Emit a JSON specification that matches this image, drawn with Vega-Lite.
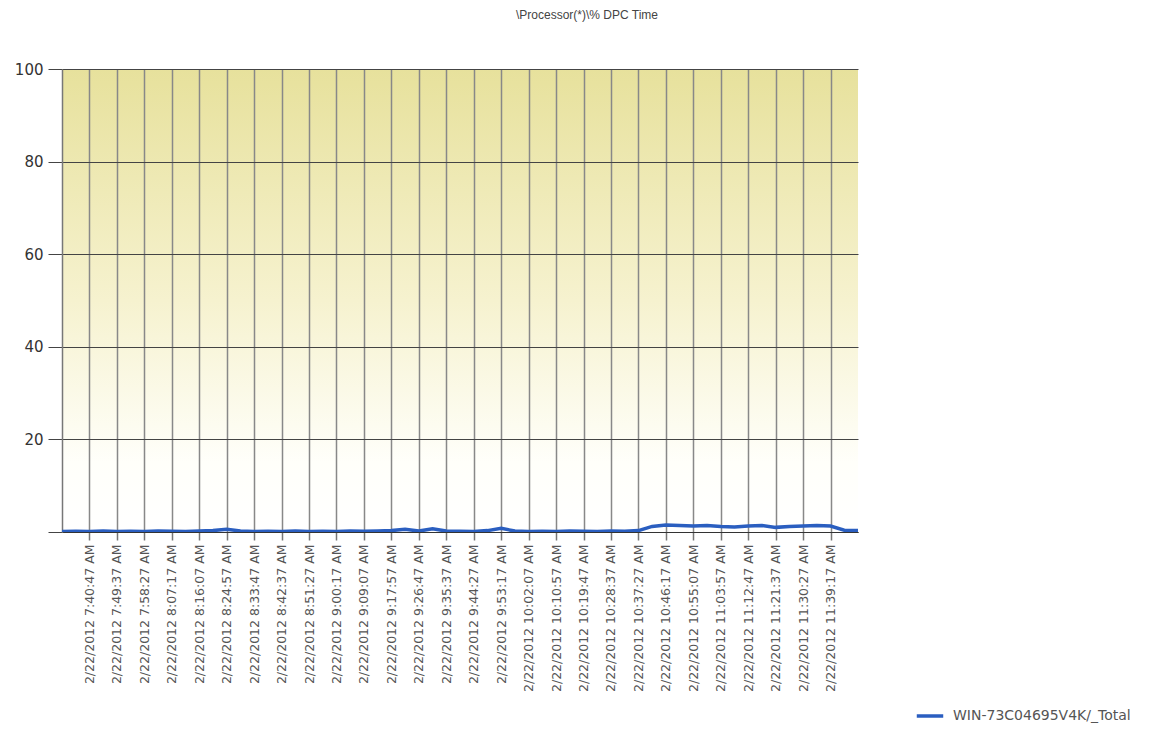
{
  "$schema": "https://vega.github.io/schema/vega-lite/v6.json",
  "autosize": {"type": "none"},
  "padding": {"left": 62, "top": 69, "right": 304, "bottom": 199},
  "width": 796,
  "height": 463,
  "background": "#ffffff",
  "title": {
    "text": "\\Processor(*)\\% DPC Time",
    "fontSize": 12,
    "fontWeight": "normal",
    "font": "Liberation Sans",
    "color": "#444444",
    "offset": 40,
    "dx": 127
  },
  "config": {
    "view": {
      "stroke": null,
      "fill": {
        "gradient": "linear",
        "x1": 0, "y1": 1, "x2": 0, "y2": 0,
        "stops": [
          {"offset": 0, "color": "#ffffff"},
          {"offset": 0.15, "color": "#fffffa"},
          {"offset": 0.5, "color": "#f6f2cf"},
          {"offset": 1, "color": "#e7e19c"}
        ]
      }
    },
    "font": "DejaVu Sans"
  },
  "data": {
    "values": [
      {"time": "2012-02-22T07:31:57Z", "value": 0.1},
      {"time": "2012-02-22T07:36:22Z", "value": 0.15},
      {"time": "2012-02-22T07:40:47Z", "value": 0.1},
      {"time": "2012-02-22T07:45:12Z", "value": 0.2},
      {"time": "2012-02-22T07:49:37Z", "value": 0.1},
      {"time": "2012-02-22T07:54:02Z", "value": 0.15},
      {"time": "2012-02-22T07:58:27Z", "value": 0.1},
      {"time": "2012-02-22T08:02:52Z", "value": 0.2},
      {"time": "2012-02-22T08:07:17Z", "value": 0.15},
      {"time": "2012-02-22T08:11:42Z", "value": 0.1},
      {"time": "2012-02-22T08:16:07Z", "value": 0.2},
      {"time": "2012-02-22T08:20:32Z", "value": 0.3},
      {"time": "2012-02-22T08:24:57Z", "value": 0.6},
      {"time": "2012-02-22T08:29:22Z", "value": 0.2},
      {"time": "2012-02-22T08:33:47Z", "value": 0.1},
      {"time": "2012-02-22T08:38:12Z", "value": 0.15},
      {"time": "2012-02-22T08:42:37Z", "value": 0.1},
      {"time": "2012-02-22T08:47:02Z", "value": 0.2},
      {"time": "2012-02-22T08:51:27Z", "value": 0.1},
      {"time": "2012-02-22T08:55:52Z", "value": 0.15},
      {"time": "2012-02-22T09:00:17Z", "value": 0.1},
      {"time": "2012-02-22T09:04:42Z", "value": 0.2},
      {"time": "2012-02-22T09:09:07Z", "value": 0.15},
      {"time": "2012-02-22T09:13:32Z", "value": 0.2},
      {"time": "2012-02-22T09:17:57Z", "value": 0.3},
      {"time": "2012-02-22T09:22:22Z", "value": 0.6},
      {"time": "2012-02-22T09:26:47Z", "value": 0.2},
      {"time": "2012-02-22T09:31:12Z", "value": 0.7},
      {"time": "2012-02-22T09:35:37Z", "value": 0.2},
      {"time": "2012-02-22T09:40:02Z", "value": 0.15},
      {"time": "2012-02-22T09:44:27Z", "value": 0.1},
      {"time": "2012-02-22T09:48:52Z", "value": 0.3},
      {"time": "2012-02-22T09:53:17Z", "value": 0.8},
      {"time": "2012-02-22T09:57:42Z", "value": 0.2},
      {"time": "2012-02-22T10:02:07Z", "value": 0.1},
      {"time": "2012-02-22T10:06:32Z", "value": 0.15},
      {"time": "2012-02-22T10:10:57Z", "value": 0.1},
      {"time": "2012-02-22T10:15:22Z", "value": 0.2},
      {"time": "2012-02-22T10:19:47Z", "value": 0.15},
      {"time": "2012-02-22T10:24:12Z", "value": 0.1},
      {"time": "2012-02-22T10:28:37Z", "value": 0.2},
      {"time": "2012-02-22T10:33:02Z", "value": 0.15},
      {"time": "2012-02-22T10:37:27Z", "value": 0.3},
      {"time": "2012-02-22T10:41:52Z", "value": 1.2},
      {"time": "2012-02-22T10:46:17Z", "value": 1.5},
      {"time": "2012-02-22T10:50:42Z", "value": 1.4},
      {"time": "2012-02-22T10:55:07Z", "value": 1.3},
      {"time": "2012-02-22T10:59:32Z", "value": 1.4},
      {"time": "2012-02-22T11:03:57Z", "value": 1.2},
      {"time": "2012-02-22T11:08:22Z", "value": 1.1},
      {"time": "2012-02-22T11:12:47Z", "value": 1.3},
      {"time": "2012-02-22T11:17:12Z", "value": 1.4},
      {"time": "2012-02-22T11:21:37Z", "value": 1.0},
      {"time": "2012-02-22T11:26:02Z", "value": 1.2},
      {"time": "2012-02-22T11:30:27Z", "value": 1.3},
      {"time": "2012-02-22T11:34:52Z", "value": 1.4},
      {"time": "2012-02-22T11:39:17Z", "value": 1.3},
      {"time": "2012-02-22T11:43:42Z", "value": 0.4},
      {"time": "2012-02-22T11:48:07Z", "value": 0.3}
    ]
  },
  "mark": {"type": "line", "strokeWidth": 3.5, "clip": true},
  "encoding": {
    "x": {
      "field": "time",
      "type": "temporal",
      "scale": {
        "type": "utc",
        "domain": [
          {"year": 2012, "month": 2, "date": 22, "hours": 7, "minutes": 31, "seconds": 57, "utc": true},
          {"year": 2012, "month": 2, "date": 22, "hours": 11, "minutes": 48, "seconds": 7, "utc": true}
        ]
      },
      "axis": {
        "title": null,
        "labelExpr": "utcFormat(datum.value, '%-m/%-d/%Y %-I:%M:%S %p')",
        "labelAngle": 270,
        "labelAlign": "right",
        "labelBaseline": "middle",
        "labelFont": "DejaVu Sans",
        "labelFontSize": 12.5,
        "labelColor": "#555555",
        "labelPadding": 4,
        "labelLimit": 0,
        "labelFlush": false,
        "labelOverlap": false,
        "tickSize": 8,
        "tickColor": "#777777",
        "tickWidth": 1.5,
        "domainColor": "#333333",
        "grid": true,
        "gridColor": "#888888",
        "gridWidth": 1.5,
        "gridOpacity": 1,
        "values": [
          {"year": 2012, "month": 2, "date": 22, "hours": 7, "minutes": 40, "seconds": 47, "utc": true},
          {"year": 2012, "month": 2, "date": 22, "hours": 7, "minutes": 49, "seconds": 37, "utc": true},
          {"year": 2012, "month": 2, "date": 22, "hours": 7, "minutes": 58, "seconds": 27, "utc": true},
          {"year": 2012, "month": 2, "date": 22, "hours": 8, "minutes": 7, "seconds": 17, "utc": true},
          {"year": 2012, "month": 2, "date": 22, "hours": 8, "minutes": 16, "seconds": 7, "utc": true},
          {"year": 2012, "month": 2, "date": 22, "hours": 8, "minutes": 24, "seconds": 57, "utc": true},
          {"year": 2012, "month": 2, "date": 22, "hours": 8, "minutes": 33, "seconds": 47, "utc": true},
          {"year": 2012, "month": 2, "date": 22, "hours": 8, "minutes": 42, "seconds": 37, "utc": true},
          {"year": 2012, "month": 2, "date": 22, "hours": 8, "minutes": 51, "seconds": 27, "utc": true},
          {"year": 2012, "month": 2, "date": 22, "hours": 9, "minutes": 0, "seconds": 17, "utc": true},
          {"year": 2012, "month": 2, "date": 22, "hours": 9, "minutes": 9, "seconds": 7, "utc": true},
          {"year": 2012, "month": 2, "date": 22, "hours": 9, "minutes": 17, "seconds": 57, "utc": true},
          {"year": 2012, "month": 2, "date": 22, "hours": 9, "minutes": 26, "seconds": 47, "utc": true},
          {"year": 2012, "month": 2, "date": 22, "hours": 9, "minutes": 35, "seconds": 37, "utc": true},
          {"year": 2012, "month": 2, "date": 22, "hours": 9, "minutes": 44, "seconds": 27, "utc": true},
          {"year": 2012, "month": 2, "date": 22, "hours": 9, "minutes": 53, "seconds": 17, "utc": true},
          {"year": 2012, "month": 2, "date": 22, "hours": 10, "minutes": 2, "seconds": 7, "utc": true},
          {"year": 2012, "month": 2, "date": 22, "hours": 10, "minutes": 10, "seconds": 57, "utc": true},
          {"year": 2012, "month": 2, "date": 22, "hours": 10, "minutes": 19, "seconds": 47, "utc": true},
          {"year": 2012, "month": 2, "date": 22, "hours": 10, "minutes": 28, "seconds": 37, "utc": true},
          {"year": 2012, "month": 2, "date": 22, "hours": 10, "minutes": 37, "seconds": 27, "utc": true},
          {"year": 2012, "month": 2, "date": 22, "hours": 10, "minutes": 46, "seconds": 17, "utc": true},
          {"year": 2012, "month": 2, "date": 22, "hours": 10, "minutes": 55, "seconds": 7, "utc": true},
          {"year": 2012, "month": 2, "date": 22, "hours": 11, "minutes": 3, "seconds": 57, "utc": true},
          {"year": 2012, "month": 2, "date": 22, "hours": 11, "minutes": 12, "seconds": 47, "utc": true},
          {"year": 2012, "month": 2, "date": 22, "hours": 11, "minutes": 21, "seconds": 37, "utc": true},
          {"year": 2012, "month": 2, "date": 22, "hours": 11, "minutes": 30, "seconds": 27, "utc": true},
          {"year": 2012, "month": 2, "date": 22, "hours": 11, "minutes": 39, "seconds": 17, "utc": true}
        ]
      }
    },
    "y": {
      "field": "value",
      "type": "quantitative",
      "scale": {"domain": [0, 100], "nice": false},
      "axis": {
        "title": null,
        "values": [0, 20, 40, 60, 80, 100],
        "labelExpr": "datum.value == 0 ? '' : datum.label",
        "labelFont": "DejaVu Sans",
        "labelFontSize": 15,
        "labelColor": "#333333",
        "labelPadding": 5,
        "tickSize": 14,
        "tickColor": "#444444",
        "domainColor": "#777777",
        "domainWidth": 1.5,
        "grid": true,
        "gridColor": "#444444",
        "gridWidth": 1,
        "gridOpacity": 1
      }
    },
    "color": {
      "datum": "WIN-73C04695V4K/_Total",
      "scale": {"range": ["#2a5ec0"]},
      "legend": {
        "title": null,
        "orient": "none",
        "legendX": 853,
        "legendY": 632,
        "symbolType": "stroke",
        "symbolStrokeWidth": 3.5,
        "symbolSize": 700,
        "labelFont": "DejaVu Sans",
        "labelFontSize": 14,
        "labelColor": "#555555",
        "labelOffset": 8,
        "labelLimit": 0
      }
    }
  }
}
